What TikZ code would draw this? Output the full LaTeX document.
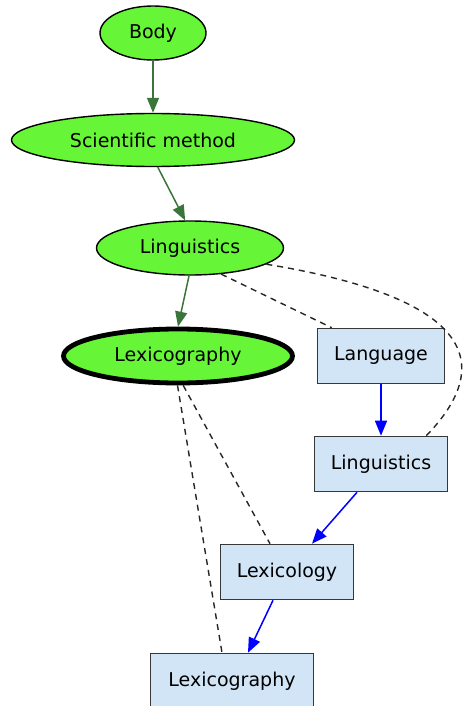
\documentclass[tikz,border=0pt]{standalone}
\usepackage{fontspec}
\setmainfont{DejaVu Sans}
\usetikzlibrary{shapes.geometric,arrows.meta}
\definecolor{topicgreen}{RGB}{102,245,55}
\definecolor{linkgreen}{RGB}{58,118,58}
\definecolor{boxblue}{RGB}{210,229,246}
\definecolor{boxline}{RGB}{55,55,55}
\tikzset{
  topic/.style={ellipse,draw=black,line width=1.4pt,fill=topicgreen,inner sep=0pt,font=\fontsize{19}{22}\selectfont},
  current/.style={topic,line width=4.8pt},
  article/.style={rectangle,draw=boxline,line width=1.6pt,fill=boxblue,inner sep=0pt,font=\fontsize{19}{22}\selectfont},
  up/.style={-{Triangle[length=15pt,width=12pt]},draw=linkgreen,fill=linkgreen,line width=1.5pt},
  link/.style={-{Triangle[length=15pt,width=12pt]},draw=blue,fill=blue,line width=1.5pt},
  seealso/.style={dash pattern=on 6pt off 5pt,line width=1.4pt,black!85}
}
\begin{document}
\begin{tikzpicture}[x=1pt,y=-1pt]
\useasboundingbox (0,0) rectangle (468,706);

% category chain
\node[topic,minimum width=106pt,minimum height=54pt] (body) at (153,33) {Body};
\node[topic,minimum width=283pt,minimum height=53pt] (scimethod) at (153,140) {Scientific method};
\node[topic,minimum width=187pt,minimum height=54pt] (ling) at (190,248) {Linguistics};
\node[current,minimum width=229pt,minimum height=54pt] (lexicog) at (178,356) {Lexicography};

% article chain
\node[article,minimum width=127pt,minimum height=55pt] (language) at (381,356) {Language};
\node[article,minimum width=133pt,minimum height=55pt] (lingbox) at (381,464) {Linguistics};
\node[article,minimum width=133pt,minimum height=55pt] (lexicol) at (287,572) {Lexicology};
\node[article,minimum width=163pt,minimum height=55pt] (lexicogbox) at (232,681) {Lexicography};

\draw[up] (body) -- (scimethod);
\draw[up] (scimethod.-80) -- (ling.100);
\draw[up] (ling.-92) -- (lexicog.north);

\draw[link] (language) -- (lingbox);
\draw[link] ([xshift=-24pt]lingbox.south) -- ([xshift=25pt]lexicol.north);
\draw[link] ([xshift=-14pt]lexicol.south) -- ([xshift=16pt]lexicogbox.north);

% dashed links between the two chains
\draw[seealso] (ling.-40) -- ([xshift=15pt]language.north west);
\draw[seealso] (ling.-12) .. controls (485,300) and (490,370) .. ([xshift=-22pt]lingbox.north east);
\draw[seealso] (lexicog.-80) -- ([xshift=-17pt]lexicol.north);
\draw[seealso] (lexicog.-91) -- ([xshift=-10pt]lexicogbox.north);
\end{tikzpicture}
\end{document}
